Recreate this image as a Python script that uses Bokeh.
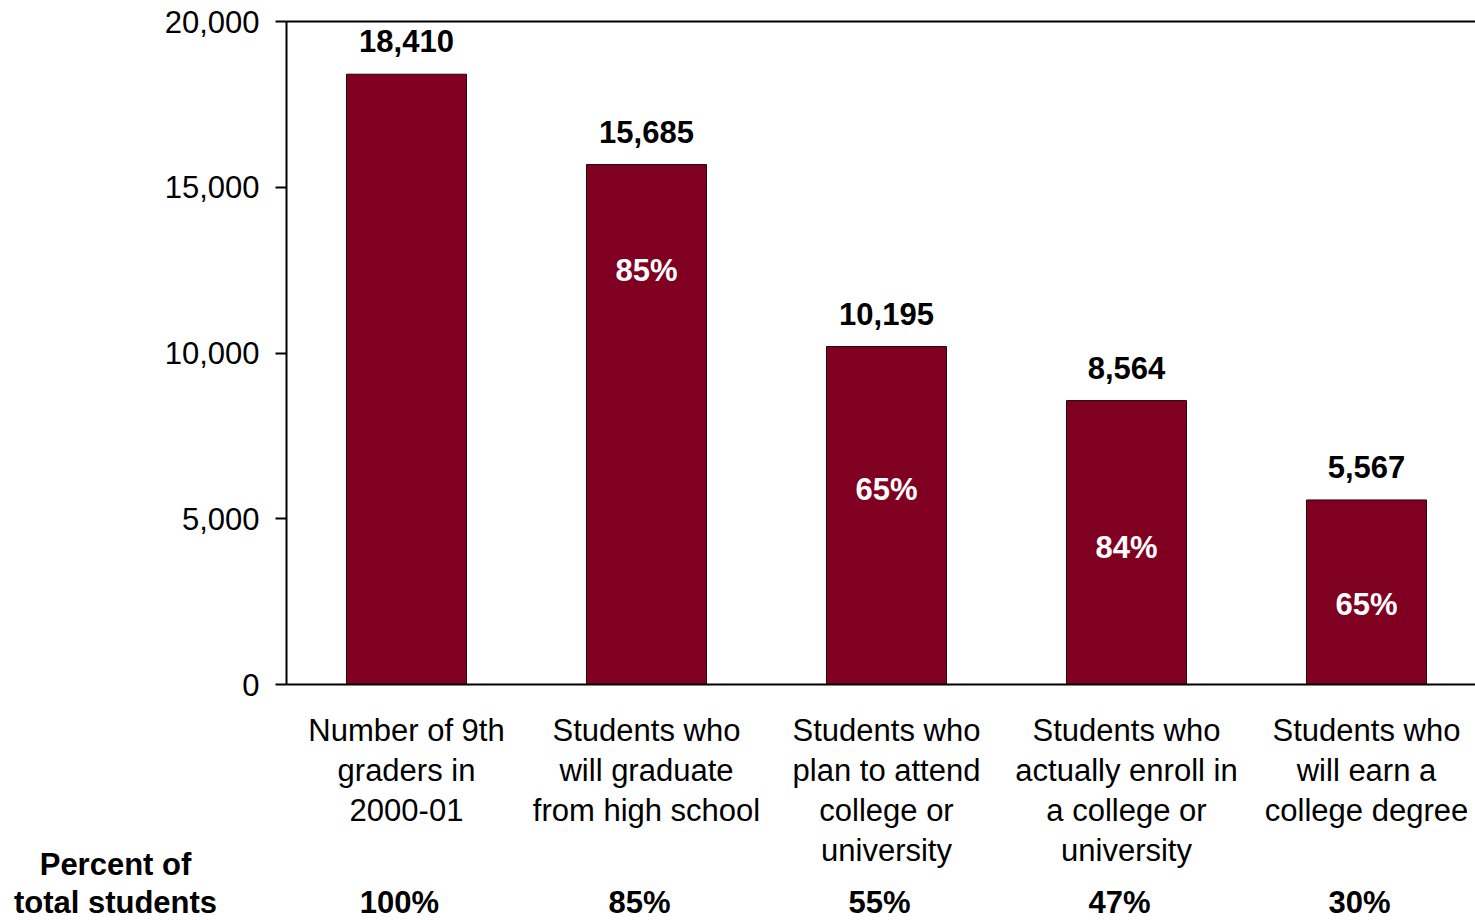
from bokeh.plotting import figure
from bokeh.models import (ColumnDataSource, Range1d, LabelSet, Label, LinearAxis,
                          FixedTicker, NumeralTickFormatter)
from bokeh.core.properties import value
from bokeh.embed import file_html
from bokeh.resources import INLINE

# ---- data ----
categories = ["Number of 9th\ngraders in\n2000-01",
              "Students who\nwill graduate\nfrom high school",
              "Students who\nplan to attend\ncollege or\nuniversity",
              "Students who\nactually enroll in\na college or\nuniversity",
              "Students who\nwill earn a\ncollege degree"]
counts = [18410, 15685, 10195, 8564, 5567]
count_labels = ["18,410", "15,685", "10,195", "8,564", "5,567"]
step_rates = ["85%", "65%", "84%", "65%"]
step_label_y = [12490, 5880, 4130, 2410]
pct_of_total = ["100%", "85%", "55%", "47%", "30%"]
row_title = "Percent of\ntotal students"
y_ticks = [0, 5000, 10000, 15000, 20000]

BAR = "#800022"
FONT = "Liberation Sans"
FS = "31px"

# canvas geometry (pixels)
W, H = 1475, 920
X0_PX, Y0_PX, YTOP_PX = 286, 684, 21       # data origin and top of value axis
cat_px = 240.0
y_max = 20000
per_px = y_max / (Y0_PX - YTOP_PX)

x_start = -X0_PX / cat_px
x_end = (W - X0_PX) / cat_px
y_start = -(H - Y0_PX) * per_px
y_end = y_max + YTOP_PX * per_px

def py(px_below_zero):
    """screen pixels below the zero line -> data units"""
    return -px_below_zero * per_px

xc = [i + 0.5 for i in range(len(counts))]

p = figure(width=W, height=H, output_backend="svg", toolbar_location=None,
           x_range=Range1d(x_start, x_end), y_range=Range1d(y_start, y_end),
           x_axis_location=None, y_axis_location=None,
           min_border=0)
p.outline_line_color = None
p.grid.visible = False
p.background_fill_color = "white"
p.border_fill_color = "white"

src = ColumnDataSource(dict(x=xc, top=counts, lab=count_labels))
p.vbar(x="x", top="top", width=0.5, bottom=0, source=src,
       fill_color=BAR, line_color="#2a0008", line_width=1)

# value axis (fixed at x = 0)
yax = LinearAxis(fixed_location=0, bounds=(0, y_max),
                 ticker=FixedTicker(ticks=y_ticks),
                 formatter=NumeralTickFormatter(format="0,0"),
                 minor_tick_line_color=None, major_tick_in=0, major_tick_out=11,
                 axis_line_width=2, major_tick_line_width=2,
                 major_label_text_font=FONT, major_label_text_font_size=FS,
                 major_label_text_color="black", major_label_standoff=16)
p.add_layout(yax, "left")

# category axis line (fixed at y = 0) and top border line
for loc, side in ((0, "below"), (y_max, "above")):
    ax = LinearAxis(fixed_location=loc, bounds=(0, x_end),
                    ticker=FixedTicker(ticks=[]), major_label_text_font_size="0px",
                    major_tick_line_color=None, minor_tick_line_color=None,
                    axis_line_width=2)
    p.add_layout(ax, side)

# value labels above bars
p.add_layout(LabelSet(x="x", y="top", text="lab", source=src, y_offset=33,
                      text_align="center", text_baseline="middle",
                      text_font=value(FONT), text_font_style="bold",
                      text_font_size=FS, text_color="black"))

# step rates inside bars
rsrc = ColumnDataSource(dict(x=xc[1:], y=step_label_y, t=step_rates))
p.add_layout(LabelSet(x="x", y="y", text="t", source=rsrc,
                      text_align="center", text_baseline="middle",
                      text_font=value(FONT), text_font_style="bold",
                      text_font_size=FS, text_color="white"))

# category labels and percent-of-total row (below the axis)
for x, cat, pct in zip(xc, categories, pct_of_total):
    p.add_layout(Label(x=x, y=py(28), text=cat,
                       text_align="center", text_baseline="top",
                       text_font=FONT, text_font_size=FS,
                       text_line_height=1.15, text_color="black"))
    p.add_layout(Label(x=x, y=py(218), text=pct, x_offset=-7,
                       text_align="center", text_baseline="middle",
                       text_font=FONT, text_font_style="bold",
                       text_font_size=FS, text_color="black"))

p.add_layout(Label(x=-(X0_PX - 115) / cat_px, y=py(199), text=row_title,
                   text_align="center", text_baseline="middle",
                   text_font=FONT, text_font_style="bold", text_font_size=FS,
                   text_line_height=1.08, text_color="black"))

open("out.html", "w").write(file_html(p, INLINE))
